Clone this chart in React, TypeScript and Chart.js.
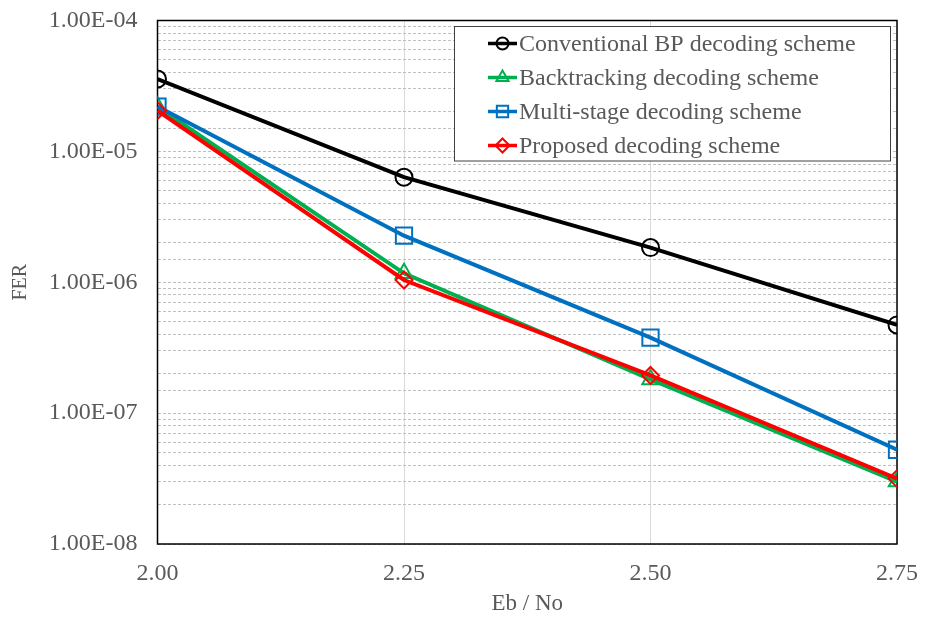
import React, { useEffect, useRef } from "react";
import { Chart, registerables } from "chart.js";

Chart.register(...registerables);

const ebNo = [2.0, 2.25, 2.5, 2.75];
const xTicks = [2.0, 2.25, 2.5, 2.75];
const seriesNames = [
  "Conventional BP decoding scheme",
  "Backtracking decoding scheme",
  "Multi-stage decoding scheme",
  "Proposed decoding scheme",
];
const conventional = [3.57e-5, 6.35e-6, 1.84e-6, 4.72e-7];
const backtracking = [2.19e-5, 1.17e-6, 1.81e-7, 3.0e-8];
const multiStage = [2.2e-5, 2.27e-6, 3.77e-7, 5.25e-8];
const proposed = [2.05e-5, 1.04e-6, 1.94e-7, 3.16e-8];

const colors = ["#000000", "#00B050", "#0070C0", "#FF0000"];
const styles = ["circle", "triangle", "rect", "rectRot"] as const;
const radii = [8.5, 9.5, 11.5, 8.5];
const FONT = "'Liberation Serif', 'Times New Roman', serif";
const TEXT = "#595959";

function fmtExp(v: number) {
  const e = Math.round(Math.log10(v));
  const m = v / Math.pow(10, e);
  const sign = e < 0 ? "-" : "+";
  const ae = Math.abs(e);
  return m.toFixed(2) + "E" + sign + (ae < 10 ? "0" + ae : String(ae));
}

function drawMarker(ctx: CanvasRenderingContext2D, style: string, r: number, x: number, y: number) {
  ctx.beginPath();
  if (style === "circle") {
    ctx.arc(x, y, r, 0, Math.PI * 2);
  } else if (style === "triangle") {
    for (let k = 0; k < 3; k++) {
      const ang = (k * 2 * Math.PI) / 3;
      const px = x + Math.sin(ang) * r;
      const py = y - Math.cos(ang) * r;
      if (k === 0) ctx.moveTo(px, py);
      else ctx.lineTo(px, py);
    }
    ctx.closePath();
  } else if (style === "rect") {
    const s = r * Math.SQRT1_2;
    ctx.rect(x - s, y - s, 2 * s, 2 * s);
  } else {
    ctx.moveTo(x, y - r);
    ctx.lineTo(x + r, y);
    ctx.lineTo(x, y + r);
    ctx.lineTo(x - r, y);
    ctx.closePath();
  }
  ctx.stroke();
}

const framePlugin = {
  id: "frame",
  beforeDatasetsDraw(chart: any) {
    const { ctx, chartArea: a } = chart;
    ctx.save();
    ctx.strokeStyle = "#000";
    ctx.lineWidth = 1.5;
    ctx.strokeRect(a.left, a.top, a.right - a.left, a.bottom - a.top);
    ctx.restore();
  },
};

const legendPlugin = {
  id: "customLegend",
  afterDraw(chart: any) {
    const { ctx } = chart;
    const x0 = 454.5, y0 = 26.5, w = 436, h = 134.5;
    ctx.save();
    ctx.fillStyle = "#fff";
    ctx.fillRect(x0, y0, w, h);
    ctx.strokeStyle = "#404040";
    ctx.lineWidth = 1;
    ctx.strokeRect(x0, y0, w, h);
    ctx.font = "24px " + FONT;
    ctx.textBaseline = "middle";
    const legendRadii = [6, 7, 8, 7];
    seriesNames.forEach((name, i) => {
      const cy = 43.5 + i * 34;
      ctx.strokeStyle = colors[i];
      ctx.lineWidth = 3.5;
      ctx.beginPath();
      ctx.moveTo(488, cy);
      ctx.lineTo(517, cy);
      ctx.stroke();
      ctx.lineWidth = 2;
      drawMarker(ctx, styles[i], legendRadii[i], 502.5, cy);
      ctx.fillStyle = TEXT;
      ctx.textAlign = "left";
      ctx.fillText(name, 519, cy + 1);
    });
    ctx.restore();
  },
};

export default function App() {
  const ref = useRef<HTMLCanvasElement>(null);
  useEffect(() => {
    document.body.style.margin = "0";
    const all = [conventional, backtracking, multiStage, proposed];
    const chart = new Chart(ref.current!, {
      type: "line",
      data: {
        datasets: all.map((vals, i) => ({
          label: seriesNames[i],
          data: ebNo.map((x, j) => ({ x, y: vals[j] })),
          borderColor: colors[i],
          backgroundColor: "rgba(0,0,0,0)",
          borderWidth: 4,
          pointStyle: styles[i] as any,
          pointRadius: radii[i],
          pointBorderWidth: 2,
          pointBorderColor: colors[i],
          pointBackgroundColor: "rgba(0,0,0,0)",
          tension: 0,
          order: 4 - i,
        })),
      },
      options: {
        animation: false,
        responsive: false,
        maintainAspectRatio: false,
        layout: { padding: { top: 20.5, right: 28, left: 0, bottom: 0 } },
        plugins: { legend: { display: false }, tooltip: { enabled: false } },
        scales: {
          x: {
            type: "linear",
            min: 2.0,
            max: 2.75,
            afterBuildTicks: (s: any) => {
              s.ticks = xTicks.map((v) => ({ value: v }));
            },
            afterFit: (s: any) => {
              s.height = 75;
              s.paddingLeft = 0;
              s.paddingRight = 0;
            },
            ticks: {
              callback: (v: any) => Number(v).toFixed(2),
              color: TEXT,
              font: { family: FONT, size: 24 },
              padding: 15,
              maxRotation: 0,
            },
            grid: { color: "#d9d9d9", lineWidth: 1, drawTicks: false },
            border: { display: false },
            title: {
              display: true,
              text: "Eb / No",
              color: TEXT,
              font: { family: FONT, size: 23 },
              padding: { top: 0, bottom: 1 },
            },
          },
          y: {
            type: "logarithmic",
            min: 1e-8,
            max: 1e-4,
            afterFit: (s: any) => {
              s.width = 157.5;
              s.paddingTop = 0;
              s.paddingBottom = 0;
            },
            ticks: {
              autoSkip: false,
              callback: (v: any) => {
                const l = Math.log10(Number(v));
                return Math.abs(l - Math.round(l)) < 1e-6 ? fmtExp(Number(v)) : "";
              },
              color: TEXT,
              font: { family: FONT, size: 24 },
              padding: 20,
            },
            grid: { color: "#bfbfbf", lineWidth: 1, drawTicks: false },
            border: { display: false, dash: [3, 2] },
            title: {
              display: true,
              text: "FER",
              color: TEXT,
              font: { family: FONT, size: 20 },
              padding: { top: 9, bottom: 0 },
            },
          },
        },
      },
      plugins: [framePlugin, legendPlugin],
    } as any);
    return () => chart.destroy();
  }, []);
  return (
    <div style={{ width: 925, height: 619 }}>
      <canvas ref={ref} width={925} height={619} style={{ width: 925, height: 619 }} />
    </div>
  );
}
